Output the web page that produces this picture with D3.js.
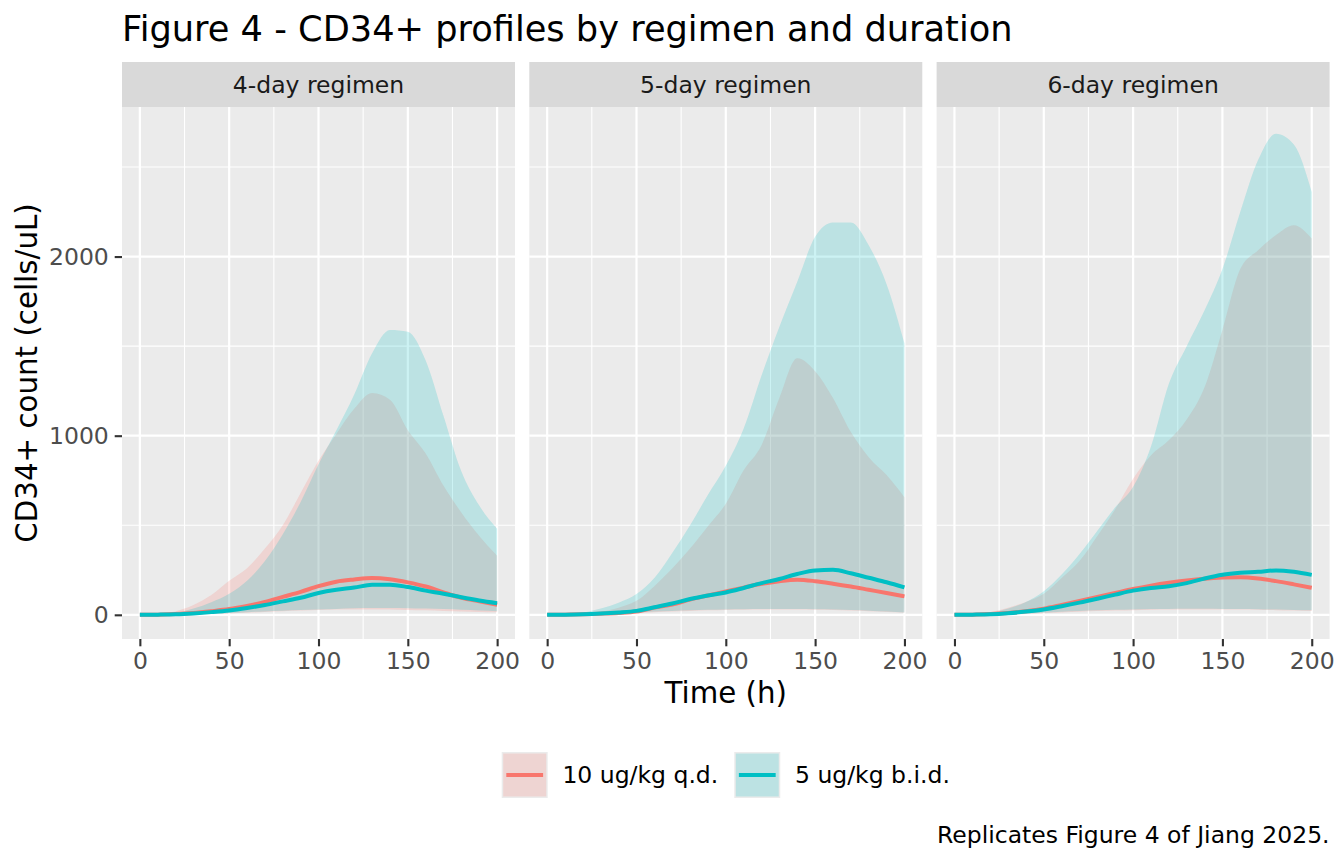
<!DOCTYPE html>
<html>
<head>
<meta charset="utf-8">
<script src="https://cdn.jsdelivr.net/npm/d3@7"></script>
<style>
  body { margin: 0; background: #fff; }
  text { font-family: "DejaVu Sans", sans-serif; }
</style>
</head>
<body>
<div id="chart"></div>
<script>

// time grid (h) and facet / group names
var hours = [0, 10, 20, 30, 40, 50, 60, 70, 80, 90, 100, 110, 120, 130, 140, 150, 160, 170, 180, 190, 200];
var regimens = ["4-day regimen", "5-day regimen", "6-day regimen"];
var doses = ["10 ug/kg q.d.", "5 ug/kg b.i.d."];
var xTicks = [0, 50, 100, 150, 200];
var yTicks = [0, 1000, 2000];

// 4-day regimen
var qd4Median  = [0, 1, 4, 10, 20, 32, 50, 72, 100, 128, 160, 185, 197, 205, 198, 181, 158, 125, 95, 75, 56];
var qd4Lower   = [0, 0, 1, 2, 5, 8, 12, 16, 20, 24, 27, 29, 30, 30, 29, 27, 25, 22, 19, 16, 14];
var qd4Upper   = [0, 3, 20, 55, 110, 190, 260, 370, 500, 680, 860, 1010, 1150, 1238, 1200, 1030, 900, 720, 570, 440, 330];
var bid4Median = [0, 1, 3, 8, 15, 24, 38, 55, 75, 95, 122, 140, 152, 168, 168, 155, 135, 118, 98, 80, 65];
var bid4Lower  = [0, 0, 1, 3, 6, 10, 15, 19, 23, 27, 30, 33, 36, 38, 38, 37, 35, 32, 28, 24, 20];
var bid4Upper  = [0, 2, 10, 35, 70, 117, 190, 300, 450, 630, 840, 1030, 1230, 1460, 1590, 1580, 1420, 1110, 800, 610, 480];

// 5-day regimen
var qd5Median  = [0, 1, 3, 6, 10, 18, 40, 58, 85, 108, 130, 152, 173, 188, 196, 188, 174, 158, 140, 122, 103];
var qd5Lower   = [0, 0, 1, 2, 5, 9, 14, 18, 22, 25, 27, 28, 29, 29, 29, 28, 27, 24, 20, 16, 12];
var qd5Upper   = [0, 1, 5, 18, 40, 78, 160, 258, 370, 495, 620, 807, 947, 1210, 1432, 1360, 1210, 1020, 880, 780, 657];
var bid5Median = [0, 1, 3, 7, 13, 22, 42, 63, 88, 108, 125, 150, 177, 200, 228, 248, 251, 232, 207, 182, 153];
var bid5Lower  = [0, 0, 1, 3, 7, 12, 18, 22, 26, 28, 30, 31, 32, 32, 32, 31, 30, 27, 23, 18, 13];
var bid5Upper  = [0, 2, 12, 35, 68, 116, 205, 345, 500, 670, 832, 1040, 1336, 1608, 1860, 2110, 2190, 2190, 2063, 1846, 1516];

// 6-day regimen
var qd6Median  = [0, 1, 4, 10, 20, 34, 55, 77, 100, 122, 144, 163, 179, 192, 202, 208, 210, 203, 188, 170, 151];
var qd6Lower   = [0, 0, 1, 2, 5, 9, 13, 17, 21, 24, 26, 28, 29, 30, 30, 30, 29, 28, 26, 24, 22];
var qd6Upper   = [0, 3, 15, 40, 72, 117, 205, 300, 440, 590, 760, 890, 974, 1090, 1270, 1590, 1930, 2035, 2120, 2175, 2101];
var bid6Median = [0, 1, 3, 9, 18, 30, 48, 68, 90, 113, 135, 150, 159, 177, 203, 224, 235, 240, 248, 240, 223];
var bid6Lower  = [0, 0, 1, 3, 7, 12, 17, 21, 25, 28, 30, 32, 33, 34, 34, 33, 32, 31, 29, 27, 25];
var bid6Upper  = [0, 2, 10, 35, 72, 132, 225, 340, 470, 600, 715, 940, 1290, 1500, 1700, 1930, 2250, 2540, 2685, 2625, 2361];

var colors = ["#F8766D", "#00BFC4"];

// group series per panel: [q.d., b.i.d.]
var panels = [
    [[qd4Median, qd4Lower, qd4Upper], [bid4Median, bid4Lower, bid4Upper]],
    [[qd5Median, qd5Lower, qd5Upper], [bid5Median, bid5Lower, bid5Upper]],
    [[qd6Median, qd6Lower, qd6Upper], [bid6Median, bid6Lower, bid6Upper]]
];

var W = 1344, H = 864;
var margin = { top: 107, left: 122, right: 14.4, bottom: 225 };
var panelGap = 14.3;
var stripH = 45;
var panelW = (W - margin.left - margin.right - 2 * panelGap) / 3;
var panelH = H - margin.top - margin.bottom;

var svg = d3.select("#chart").append("svg")
    .attr("width", W)
    .attr("height", H);

svg.append("rect").attr("width", W).attr("height", H).attr("fill", "#fff");

var y = d3.scaleLinear()
    .domain([-135, 2835])
    .range([margin.top + panelH, margin.top]);

// title
svg.append("text")
    .attr("x", margin.left)
    .attr("y", 41)
    .style("font-size", "35.2px")
    .attr("fill", "#000")
    .text("Figure 4 - CD34+ profiles by regimen and duration");

panels.forEach(function(groups, i) {
    var left = margin.left + i * (panelW + panelGap);

    var x = d3.scaleLinear()
        .domain([-10, 210])
        .range([left, left + panelW]);

    var g = svg.append("g");

    // strip
    g.append("rect")
        .attr("x", left).attr("y", margin.top - stripH)
        .attr("width", panelW).attr("height", stripH)
        .attr("fill", "#D9D9D9");
    g.append("text")
        .attr("x", left + panelW / 2)
        .attr("y", margin.top - stripH / 2)
        .attr("dy", "0.35em")
        .attr("text-anchor", "middle")
        .attr("fill", "#1A1A1A")
        .style("font-size", "23.5px")
        .text(regimens[i]);

    // panel background
    g.append("rect")
        .attr("x", left).attr("y", margin.top)
        .attr("width", panelW).attr("height", panelH)
        .attr("fill", "#EBEBEB");

    // minor grid
    [25, 75, 125, 175].forEach(function(t) {
        g.append("line")
            .attr("x1", x(t)).attr("x2", x(t))
            .attr("y1", margin.top).attr("y2", margin.top + panelH)
            .attr("stroke", "#fff").attr("stroke-width", 1.1);
    });
    [500, 1500, 2500].forEach(function(v) {
        g.append("line")
            .attr("x1", left).attr("x2", left + panelW)
            .attr("y1", y(v)).attr("y2", y(v))
            .attr("stroke", "#fff").attr("stroke-width", 1.1);
    });
    // major grid
    xTicks.forEach(function(t) {
        g.append("line")
            .attr("x1", x(t)).attr("x2", x(t))
            .attr("y1", margin.top).attr("y2", margin.top + panelH)
            .attr("stroke", "#fff").attr("stroke-width", 2.2);
    });
    yTicks.forEach(function(v) {
        g.append("line")
            .attr("x1", left).attr("x2", left + panelW)
            .attr("y1", y(v)).attr("y2", y(v))
            .attr("stroke", "#fff").attr("stroke-width", 2.2);
    });

    var area = d3.area()
        .x(function(d) { return x(d.t); })
        .y0(function(d) { return y(d.lo); })
        .y1(function(d) { return y(d.hi); })
        .curve(d3.curveMonotoneX);

    var line = d3.line()
        .x(function(d) { return x(d.t); })
        .y(function(d) { return y(d.mid); })
        .curve(d3.curveMonotoneX);

    var series = groups.map(function(s) {
        return hours.map(function(t, k) {
            return { t: t, mid: s[0][k], lo: s[1][k], hi: s[2][k] };
        });
    });

    // ribbons
    series.forEach(function(d, j) {
        g.append("path")
            .datum(d)
            .attr("d", area)
            .attr("fill", colors[j])
            .attr("fill-opacity", 0.2);
    });
    // medians
    series.forEach(function(d, j) {
        g.append("path")
            .datum(d)
            .attr("d", line)
            .attr("fill", "none")
            .attr("stroke", colors[j])
            .attr("stroke-width", 4);
    });

    // x axis
    var xAxis = g.append("g")
        .attr("transform", "translate(0," + (margin.top + panelH) + ")")
        .call(d3.axisBottom(x).tickValues(xTicks).tickSize(7.3).tickPadding(5.9));
    xAxis.select(".domain").remove();
    xAxis.selectAll("line").attr("stroke", "#333333").attr("stroke-width", 2.1);
    xAxis.selectAll("text")
        .attr("fill", "#4D4D4D")
        .style("font-size", "23.5px")
        .style("font-family", "DejaVu Sans");

    if (i === 0) {
        var yAxis = g.append("g")
            .attr("transform", "translate(" + left + ",0)")
            .call(d3.axisLeft(y).tickValues(yTicks).tickFormat(d3.format("d"))
                .tickSize(7.3).tickPadding(5.9));
        yAxis.select(".domain").remove();
        yAxis.selectAll("line").attr("stroke", "#333333").attr("stroke-width", 2.1);
        yAxis.selectAll("text")
            .attr("fill", "#4D4D4D")
            .style("font-size", "23.5px")
            .style("font-family", "DejaVu Sans");
    }
});

var plotMid = margin.left + (3 * panelW + 2 * panelGap) / 2;

// axis titles
svg.append("text")
    .attr("x", plotMid)
    .attr("y", 703)
    .attr("text-anchor", "middle")
    .style("font-size", "29.3px")
    .text("Time (h)");

svg.append("text")
    .attr("transform", "translate(37," + (margin.top + panelH / 2) + ") rotate(-90)")
    .attr("text-anchor", "middle")
    .style("font-size", "29.3px")
    .text("CD34+ count (cells/uL)");

// legend
var keySize = 46, legendY = 752;
var legend = svg.append("g");
var items = legend.selectAll("g.item")
    .data(doses)
    .enter().append("g")
    .attr("class", "item");

items.append("rect")
    .attr("width", keySize).attr("height", keySize)
    .attr("fill", "#EBEBEB");
items.append("rect")
    .attr("x", 1.5).attr("y", 1.5)
    .attr("width", keySize - 3).attr("height", keySize - 3)
    .attr("fill", function(d, j) { return colors[j]; })
    .attr("fill-opacity", 0.2);
items.append("line")
    .attr("x1", keySize * 0.1).attr("x2", keySize * 0.9)
    .attr("y1", keySize / 2).attr("y2", keySize / 2)
    .attr("stroke", function(d, j) { return colors[j]; })
    .attr("stroke-width", 4);
items.append("text")
    .attr("x", keySize + 14.7)
    .attr("y", keySize / 2)
    .attr("dy", "0.35em")
    .style("font-size", "23.5px")
    .text(function(d) { return d; });

var offsets = [], cursor = 0;
items.each(function() {
    offsets.push(cursor);
    cursor += keySize + 14.7 + d3.select(this).select("text").node().getComputedTextLength() + 16;
});
var legendW = cursor - 16;
var legendX = plotMid - legendW / 2;
items.attr("transform", function(d, j) {
    return "translate(" + (legendX + offsets[j]) + "," + legendY + ")";
});

// caption
svg.append("text")
    .attr("x", W - margin.right)
    .attr("y", 843)
    .attr("text-anchor", "end")
    .style("font-size", "23.5px")
    .text("Replicates Figure 4 of Jiang 2025.");

</script>
</body>
</html>
